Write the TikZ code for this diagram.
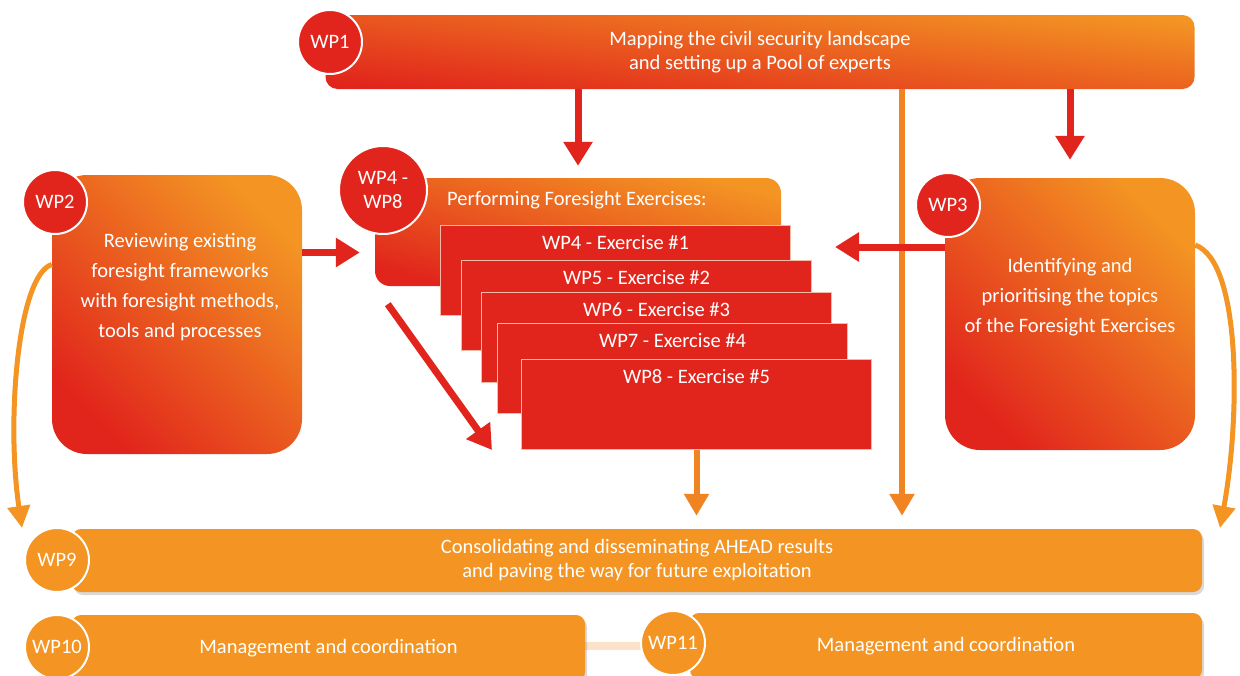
\documentclass[tikz,border=0pt]{standalone}
\usepackage{fontspec}
\setmainfont{Carlito}
\usetikzlibrary{arrows.meta,shadows}
\definecolor{wpred}{RGB}{225,37,28}
\definecolor{wporange}{RGB}{243,148,35}
\definecolor{wparrow}{RGB}{241,132,34}
\definecolor{wppeach}{RGB}{251,226,200}
\definecolor{wpedge}{RGB}{245,185,170}

\begin{document}
\begin{tikzpicture}
  [x=1pt,y=-1pt,
   every node/.style={text=white,font=\fontsize{20.5}{24}\selectfont,inner sep=0pt},
   ball/.style={circle,fill=wpred,draw=white,line width=2pt,minimum size=64pt},
   oball/.style={ball,fill=wporange},
   grad/.style={rectangle,rounded corners=35pt,top color=wporange,bottom color=wpred,shading angle=-45},
   bar/.style={rectangle,rounded corners=9pt,fill=wporange,drop shadow={opacity=.3,shadow xshift=2pt,shadow yshift=-3pt}},
   exbox/.style={rectangle,fill=wpred,draw=wpedge,line width=1pt,minimum width=350pt,minimum height=90pt,anchor=north west},
   redarrow/.style={draw=wpred,line width=7pt,-{Triangle[width=28pt,length=24pt]}},
   orarrow/.style={draw=wparrow,line width=6pt,-{Triangle[width=24pt,length=22pt]}},
   curvearrow/.style={draw=wporange,line width=5pt,-{Triangle[width=22pt,length=22pt]}}]
  \useasboundingbox (0,0) rectangle (1240,675);
  \clip (0,0) rectangle (1240,675);

  % top bar
  \node[grad,rounded corners=12pt,shading angle=-6,minimum width=869pt,minimum height=74pt,align=center] (wp1) at (760,52)
    {Mapping the civil security landscape\\and setting up a Pool of experts};
  \node[ball] (wp1c) at (330,42) {WP1};

  % left box
  \node[grad,minimum width=250pt,minimum height=279pt] (wp2) at (177,314.5) {};
  \node[align=center,font=\fontsize{20.5}{30}\selectfont] (wp2t) at (180,287)
    {Reviewing existing\\foresight frameworks\\with foresight methods,\\tools and processes};
  \node[ball] (wp2c) at (55,202) {WP2};

  % exercises
  \node[grad,rounded corners=15pt,shading angle=-15,minimum width=406pt,minimum height=108pt] (hdr) at (578,232) {};
  \node[anchor=west] (hdrt) at (447,200) {Performing Foresight Exercises:};
  \node[ball,minimum size=88pt,align=center] (wp48c) at (383,190) {WP4 -\\WP8};
  \foreach \n/\wp/\x/\y in {1/4/440/225,2/5/461/260,3/6/481/292,4/7/497/323,5/8/521/359}
    \node[exbox,label={[anchor=north,yshift=-10pt]north:WP\wp{} - Exercise \#\n}] (ex\n) at (\x,\y) {};

  % right box
  \node[grad,minimum width=250pt,minimum height=272pt] (wp3) at (1070,314) {};
  \node[align=center,font=\fontsize{20.5}{30}\selectfont] (wp3t) at (1070,297)
    {Identifying and\\prioritising the topics\\of the Foresight Exercises};
  \node[ball] (wp3c) at (948,205) {WP3};

  % bottom bars
  \draw[wppeach,line width=8pt] (328,646) coordinate (lnk) -- (673,646);
  \node[bar,minimum width=1130pt,minimum height=63pt,align=center] (wp9) at (637,560.5)
    {Consolidating and disseminating AHEAD results\\and paving the way for future exploitation};
  \node[oball] (wp9c) at (57,560) {WP9};
  \node[bar,minimum width=513pt,minimum height=66pt] (wp10) at (328.5,648) {Management and coordination};
  \node[oball] (wp10c) at (57,647) {WP10};
  \node[bar,minimum width=512pt,minimum height=66pt] (wp11) at (946,646) {Management and coordination};
  \node[oball] (wp11c) at (673,643) {WP11};

  % arrows
  \draw[redarrow,shorten >=12pt] (wp1.south -| hdr.north) -- (hdr.north);
  \draw[redarrow,shorten >=18pt] (wp1.south -| wp3.north) -- (wp3.north);
  \draw[orarrow,shorten >=13pt] ([xshift=142pt]wp1.south) -- ([xshift=142pt]wp1.south |- wp9.north);
  \draw[orarrow,shorten >=13pt] (ex5.south) -- (ex5.south |- wp9.north);
  \draw[redarrow,shorten >=15pt] ([yshift=62pt]wp2.east) -- ([yshift=62pt]wp2.east -| hdr.west);
  \draw[redarrow,shorten >=44pt] ([yshift=67pt]wp3.west) -- ([yshift=67pt]wp3.west -| ex1.east);
  \draw[redarrow] ([xshift=13pt,yshift=-18pt]hdr.south west) -- ([xshift=-29pt]ex5.south west);

  \coordinate (wp9in) at (22,528);
  \coordinate (wp9out) at (1220,528);
  \draw[curvearrow] ([yshift=50pt]wp2.west) .. controls (18,275) and (6,420) .. (wp9in);
  \draw[curvearrow] ([yshift=69pt]wp3.east) .. controls (1242,262) and (1240,420) .. (wp9out);
\end{tikzpicture}
\end{document}
